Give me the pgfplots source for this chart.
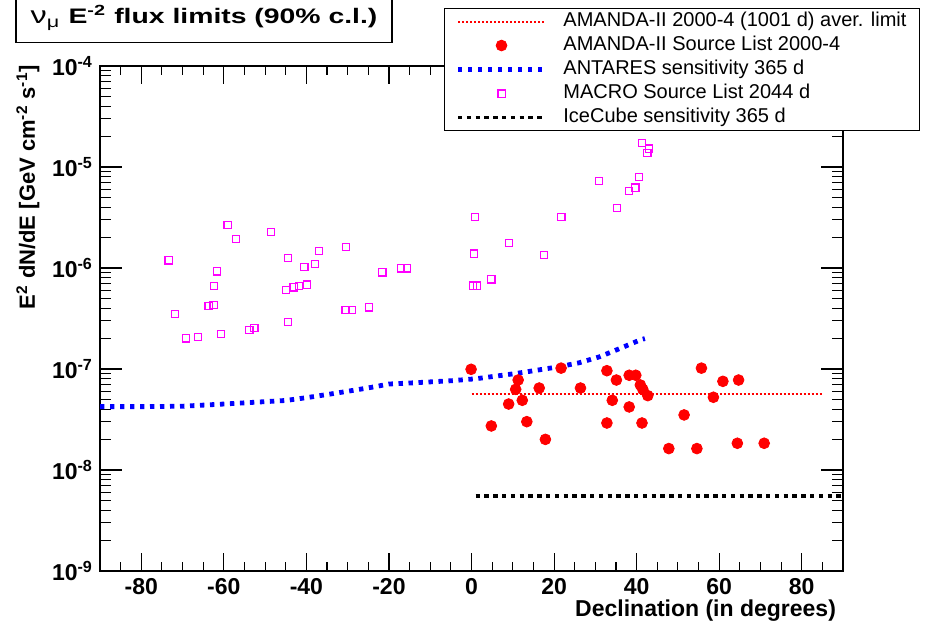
\documentclass[border=0pt]{standalone}
\usepackage{pgfplots}
\pgfplotsset{compat=1.18}
\usepackage{fontspec}
\setmainfont{Liberation Sans}
\definecolor{rootred}{rgb}{1,0,0}
\definecolor{rootblue}{rgb}{0,0,1}
\definecolor{rootmag}{rgb}{1,0,1}

\pgfplotsset{
  linelegend/.style={legend image code/.code={\draw[##1] (0pt,0pt) -- (43.5pt,0pt);}},
  marklegend/.style={legend image code/.code={\draw[mark repeat=2,mark phase=2,##1] plot coordinates {(0pt,0pt) (21.75pt,0pt) (43.5pt,0pt)};}},
}
\tikzset{tickline/.style={draw=black, line width=0.55pt, solid}}

\pgfplotstableread{
x y
-73.4 1.19e-6
-71.8 3.51e-7
-69.2 2.01e-7
-66.3 2.07e-7
-63.7 4.21e-7
-62.5 4.33e-7
-62.4 6.64e-7
-61.7 9.27e-7
-60.7 2.21e-7
-59.1 2.65e-6
-57.1 1.94e-6
-53.8 2.42e-7
-52.6 2.56e-7
-48.6 2.27e-6
-45.0 6.05e-7
-44.5 2.90e-7
-44.4 1.26e-6
-43.1 6.44e-7
-41.8 6.64e-7
-40.5 1.02e-6
-39.9 6.84e-7
-37.9 1.09e-6
-36.9 1.47e-6
-30.5 3.84e-7
-29.0 3.84e-7
-30.4 1.61e-6
-24.8 4.08e-7
-21.6 9.06e-7
-17.1 9.93e-7
-15.7 9.93e-7
0.4 6.68e-7
1.3 6.68e-7
0.6 1.39e-6
0.9 3.18e-6
4.8 7.73e-7
9.1 1.77e-6
17.6 1.35e-6
21.8 3.18e-6
30.9 7.26e-6
35.2 3.93e-6
38.1 5.78e-6
39.7 6.24e-6
40.6 7.96e-6
41.3 1.72e-5
43.0 1.52e-5
42.6 1.37e-5
}\macrodata

\pgfplotstableread{
x y
-0.1 9.93e-8
4.8 2.73e-8
9.0 4.50e-8
11.3 7.78e-8
10.7 6.29e-8
12.3 4.90e-8
13.4 3.01e-8
16.4 6.48e-8
17.9 2.01e-8
21.7 1.02e-7
26.4 6.48e-8
32.8 9.62e-8
32.8 2.92e-8
35.1 7.78e-8
34.1 4.90e-8
38.2 8.67e-8
39.8 8.67e-8
40.9 6.95e-8
41.5 6.29e-8
42.7 5.45e-8
38.2 4.21e-8
41.3 2.92e-8
47.8 1.63e-8
51.5 3.51e-8
54.6 1.63e-8
55.7 1.02e-7
58.6 5.25e-8
60.9 7.55e-8
64.7 7.78e-8
64.4 1.84e-8
70.9 1.84e-8
}\amandadata

\pgfplotstableread{
x y
-90 4.24e-8
-80 4.24e-8
-70 4.28e-8
-60 4.50e-8
-50 4.75e-8
-45 4.88e-8
-40 5.20e-8
-33 5.75e-8
-25 6.50e-8
-20 7.10e-8
-14 7.30e-8
-5 7.65e-8
1 8.00e-8
11 9.06e-8
21 1.05e-7
26 1.15e-7
31 1.32e-7
36 1.60e-7
41 1.95e-7
42 2.00e-7
}\antaresdata

\begin{document}
\begin{tikzpicture}
\path[use as bounding box] (0,0) rectangle (465pt,312pt);
\begin{axis}[
  at={(50pt,26.5pt)}, anchor=south west,
  scale only axis, width=371.5pt, height=252.5pt,
  xmin=-90, xmax=90, ymode=log, ymin=1e-9, ymax=1e-4,
  clip=false,
  axis line style={line width=0.6pt},
  tick align=inside,
  major tick length=9pt, minor tick length=4.5pt,
  tick style={black, line width=0.5pt},
  xtick={-80,-60,-40,-20,0,20,40,60,80},
  xticklabels={-80,-60,-40,-20,0,20,40,60,80},
  minor x tick num=3,
  ytick={1e-9,1e-8,1e-7,1e-6,1e-5,1e-4},
  yticklabels={10\textsuperscript{-9},10\textsuperscript{-8},10\textsuperscript{-7},10\textsuperscript{-6},10\textsuperscript{-5},10\textsuperscript{-4}},
  ticklabel style={font=\fontsize{11.5}{13}\selectfont\bfseries},
  xlabel={Declination (in degrees)},
  xlabel style={at={(axis description cs:1,0)}, anchor=north east, yshift=-11pt,
    font=\fontsize{11.5}{13}\selectfont\bfseries},
  ylabel={E\textsuperscript{2} dN/dE [GeV cm\textsuperscript{-2} s\textsuperscript{-1}]},
  ylabel style={at={(axis description cs:-0.097,1.016)}, anchor=east,
    font=\fontsize{11}{13}\selectfont\bfseries},
  title={{\mdseries\fontsize{12}{12}\selectfont ν\textsubscript{μ}} E\textsuperscript{-2} flux limits (90\% c.l.)},
  title style={at={(axis description cs:0.140,1.071)}, anchor=center, draw=black,
    line width=0.6pt, xscale=1.35, minimum width=139.3pt, minimum height=24pt,
    inner sep=0pt, fill=white, font=\fontsize{10.5}{12}\selectfont\bfseries},
  legend style={at={(axis description cs:0.463,1.115)}, anchor=north west,
    draw=black, line width=0.6pt, fill=white,
    font=\fontsize{10}{12}\selectfont, cells={anchor=west},
    inner xsep=5.5pt, inner ysep=0.5pt,
    nodes={inner sep=1pt, text height=7.5pt, text depth=2.5pt},
    /tikz/every odd column/.append style={column sep=7pt}},
  legend cell align=left,
]
% axis tick marks (inside, on all four sides)
\pgfplotsinvokeforeach{-85,-75,-70,-65,-55,-50,-45,-35,-30,-25,-15,-10,-5,5,10,15,25,30,35,45,50,55,65,70,75,85}{
  \draw[tickline] (axis cs:#1,1e-9) -- ++(0pt,4.5pt);
  \draw[tickline] (axis cs:#1,1e-4) -- ++(0pt,-4.5pt);
}
\pgfplotsinvokeforeach{-80,-60,-40,-20,0,20,40,60,80}{
  \draw[tickline] (axis cs:#1,1e-9) -- ++(0pt,9pt);
  \draw[tickline] (axis cs:#1,1e-4) -- ++(0pt,-9pt);
}
\pgfplotsinvokeforeach{2e-9,3e-9,4e-9,5e-9,6e-9,7e-9,8e-9,9e-9,2e-8,3e-8,4e-8,5e-8,6e-8,7e-8,8e-8,9e-8,2e-7,3e-7,4e-7,5e-7,6e-7,7e-7,8e-7,9e-7,2e-6,3e-6,4e-6,5e-6,6e-6,7e-6,8e-6,9e-6,2e-5,3e-5,4e-5,5e-5,6e-5,7e-5,8e-5,9e-5}{
  \draw[tickline] (axis cs:-90,#1) -- ++(5.5pt,0pt);
  \draw[tickline] (axis cs:90,#1) -- ++(-5.5pt,0pt);
}
\pgfplotsinvokeforeach{1e-8,1e-7,1e-6,1e-5}{
  \draw[tickline] (axis cs:-90,#1) -- ++(11pt,0pt);
  \draw[tickline] (axis cs:90,#1) -- ++(-11pt,0pt);
}
\addplot[rootred, line width=1pt, dash pattern=on 1pt off 1pt, linelegend]
  coordinates {(0,5.65e-8) (85,5.65e-8)};
\addlegendentry{AMANDA-II 2000-4 (1001 d) aver. limit}
\addplot[only marks, mark=*, mark size=2.7pt, rootred,
  mark options={fill=rootred, draw=rootred, line width=0.4pt}, marklegend]
  table[x=x,y=y] {\amandadata};
\addlegendentry{AMANDA-II Source List 2000-4}
\addplot[rootblue, line width=2.4pt, dash pattern=on 2.2pt off 2.8pt, linelegend]
  table[x=x,y=y] {\antaresdata};
\addlegendentry{ANTARES sensitivity 365 d}
\addplot[only marks, mark=square, mark size=1.8pt, rootmag,
  mark options={line width=0.6pt, draw=rootmag}, marklegend]
  table[x=x,y=y] {\macrodata};
\addlegendentry{MACRO Source List 2044 d}
\addplot[black, line width=1.6pt, dash pattern=on 2.2pt off 2.2pt, linelegend]
  coordinates {(1,5.54e-9) (90,5.54e-9)};
\addlegendentry{IceCube sensitivity 365 d}
\end{axis}
\end{tikzpicture}
\end{document}
